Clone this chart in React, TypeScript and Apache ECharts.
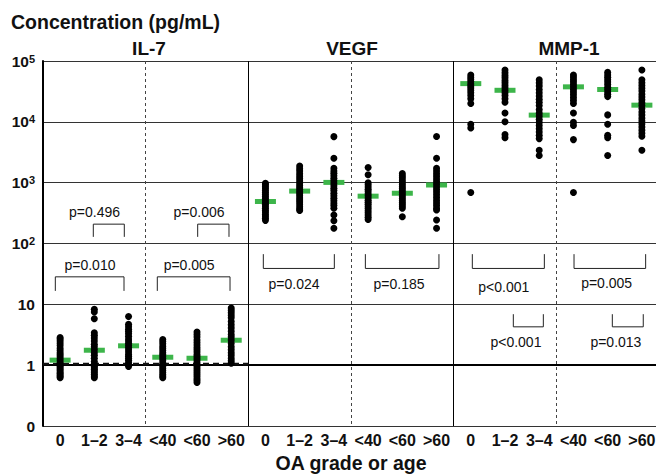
import React, { useEffect, useRef } from 'react';
import * as echarts from 'echarts';

// ---------- data ----------
const groupNames = ['IL-7', 'VEGF', 'MMP-1'];
const subgroupLabels = ['0', '1–2', '3–4', '<40', '<60', '>60'];
const yTickLabels = ['0', '1', '10', '10|2', '10|3', '10|4', '10|5'];

// concentrations, pg/mL, one list per subgroup (0, 1–2, 3–4, <40, <60, >60)
const il7Values = [
  [0.62, 0.65, 0.68, 0.72, 0.75, 0.8, 0.85, 0.9, 0.95, 1.0, 1.05, 1.1, 1.2, 1.3, 1.4, 1.5, 1.6, 1.75, 1.9, 2.1, 2.3, 2.5, 2.7, 2.85],
  [8.3, 7.5, 5.8, 3.4, 3.1, 2.8, 2.5, 2.2, 2.0, 1.8, 1.6, 1.45, 1.3, 1.15, 1.05, 1.0, 0.95, 0.9, 0.85, 0.8, 0.75, 0.7, 0.66, 0.62],
  [6.3, 4.7, 4.3, 3.9, 3.6, 3.3, 3.0, 2.7, 2.5, 2.3, 2.1, 1.95, 1.8, 1.65, 1.5, 1.4, 1.3, 1.2, 1.1, 1.02, 0.95],
  [2.65, 2.45, 2.25, 2.05, 1.9, 1.75, 1.6, 1.5, 1.4, 1.3, 1.2, 1.1, 1.02, 0.95, 0.88, 0.82, 0.76, 0.7, 0.66, 0.62],
  [3.5, 3.2, 2.9, 2.6, 2.35, 2.15, 1.95, 1.8, 1.65, 1.5, 1.4, 1.3, 1.2, 1.1, 1.02, 0.95, 0.88, 0.82, 0.76, 0.7, 0.65, 0.6, 0.56, 0.52],
  [8.7, 8.0, 7.3, 6.6, 6.0, 5.2, 4.6, 4.1, 3.6, 3.2, 2.9, 2.6, 2.3, 2.0, 1.8, 1.6, 1.45, 1.3, 1.18, 1.08],
];
const il7Medians = [1.21, 1.76, 2.08, 1.35, 1.3, 2.57];

const vegfValues = [
  [980, 920, 860, 800, 740, 690, 640, 590, 550, 510, 470, 440, 410, 380, 350, 325, 300, 280, 260, 240],
  [1880, 1700, 1550, 1400, 1280, 1170, 1070, 980, 900, 830, 770, 710, 660, 610, 560, 520, 480, 440, 400, 370, 350],
  [5710, 2520, 1720, 1550, 1430, 1300, 1180, 1080, 980, 890, 810, 740, 670, 610, 555, 505, 460, 420, 380, 295, 237, 178],
  [1780, 1350, 1000, 920, 850, 780, 720, 660, 610, 560, 515, 475, 440, 405, 375, 345, 320, 295, 270, 248],
  [1410, 1300, 1200, 1100, 1010, 930, 860, 800, 740, 690, 640, 590, 550, 510, 470, 440, 410, 380, 275],
  [5750, 2520, 1720, 1550, 1400, 1270, 1150, 1040, 940, 850, 770, 700, 630, 570, 515, 465, 420, 380, 355, 244, 178],
];
const vegfMedians = [490, 727, 1010, 600, 670, 915];

const mmp1Values = [
  [59000, 54000, 50000, 46000, 42000, 39000, 36000, 33000, 30000, 27000, 24000, 20000, 9100, 7900, 690],
  [71000, 64000, 58000, 53000, 48000, 44000, 40000, 36500, 33000, 30000, 27000, 24000, 21000, 14000, 10000, 6200, 5500],
  [49000, 44000, 39000, 34000, 30000, 26500, 23500, 21000, 18500, 16000, 14000, 12500, 11000, 9800, 8700, 7700, 6800, 6000, 5300, 3400, 2800],
  [59000, 54000, 49000, 45000, 41000, 37500, 34000, 31000, 28000, 25000, 22500, 20000, 14000, 9800, 8700, 5100, 690],
  [65000, 59000, 54000, 49000, 45000, 41000, 37000, 34000, 31000, 28500, 26000, 13000, 9100, 6000, 5500, 2800],
  [71000, 49000, 44000, 39500, 35500, 32000, 28500, 25500, 23000, 20500, 18500, 16500, 14500, 13000, 11500, 10300, 9200, 8200, 7300, 6500, 5800, 3400],
];
const mmp1Medians = [42500, 33000, 12900, 37600, 34000, 18800];

const detectionLimit = 1.05; // IL-7, pg/mL

// p-value brackets: x in category units, levels in log10(pg/mL)
const pBrackets = [
  { from: 0.97, to: 1.876, barLog: 2.318, legLog: 2.109, text: 'p=0.496', tx: 1.005, tyLog: 2.515 },
  { from: 4.02, to: 4.935, barLog: 2.318, legLog: 2.109, text: 'p=0.006', tx: 4.06, tyLog: 2.515 },
  { from: -0.14, to: 1.867, barLog: 1.452, legLog: 1.221, text: 'p=0.010', tx: 0.873, tyLog: 1.644 },
  { from: 2.84, to: 4.965, barLog: 1.452, legLog: 1.221, text: 'p=0.005', tx: 3.77, tyLog: 1.644 },
  { from: 5.938, to: 8.013, barLog: 1.59, legLog: 1.825, text: 'p=0.024', tx: 6.835, tyLog: 1.332 },
  { from: 8.92, to: 11.07, barLog: 1.59, legLog: 1.825, text: 'p=0.185', tx: 9.903, tyLog: 1.332 },
  { from: 12.045, to: 14.15, barLog: 1.59, legLog: 1.825, text: 'p<0.001', tx: 12.966, tyLog: 1.287 },
  { from: 15.017, to: 17.11, barLog: 1.59, legLog: 1.825, text: 'p=0.005', tx: 15.97, tyLog: 1.343 },
  { from: 13.243, to: 14.12, barLog: 0.63, legLog: 0.838, text: 'p<0.001', tx: 13.32, tyLog: 0.386 },
  { from: 16.136, to: 17.04, barLog: 0.63, legLog: 0.838, text: 'p=0.013', tx: 16.24, tyLog: 0.386 },
];

// ---------- derived ----------
const FONT = '"Liberation Sans", Arial, sans-serif';
const GREEN = '#3db54a';
const allValues = [il7Values, vegfValues, mmp1Values];
const allMedians = [il7Medians, vegfMedians, mmp1Medians];
const categories: string[] = [];
groupNames.forEach(() => subgroupLabels.forEach((l) => categories.push(l)));

const dotData: number[][] = [];
allValues.forEach((grp, g) =>
  grp.forEach((vals, c) => vals.forEach((v) => dotData.push([g * 6 + c, Math.log10(v)])))
);
const medianData: number[][] = [];
allMedians.forEach((grp, g) => grp.forEach((v, c) => medianData.push([g * 6 + c, Math.log10(v)])));

export default function App() {
  const ref = useRef<HTMLDivElement>(null);
  useEffect(() => {
    if (!ref.current) return;
    const chart = echarts.init(ref.current, undefined, { renderer: 'svg' });
    const titleFont = `bold 19px ${FONT}`;
    const option: any = {
      animation: false,
      backgroundColor: '#fff',
      grid: { left: 43, top: 61, width: 616, height: 365, containLabel: false, outerBoundsMode: 'none' },
      graphic: [
        { type: 'text', x: 11, y: 22, style: { text: 'Concentration (pg/mL)', font: `bold 19.5px ${FONT}`, fill: '#111', verticalAlign: 'middle' } },
        { type: 'text', x: 149, y: 48, style: { text: groupNames[0], font: titleFont, fill: '#111', align: 'center', verticalAlign: 'middle' } },
        { type: 'text', x: 352, y: 48, style: { text: groupNames[1], font: titleFont, fill: '#111', align: 'center', verticalAlign: 'middle' } },
        { type: 'text', x: 569, y: 48, style: { text: groupNames[2], font: titleFont, fill: '#111', align: 'center', verticalAlign: 'middle' } },
      ],
      xAxis: [
        {
          type: 'category',
          data: categories,
          boundaryGap: true,
          position: 'bottom',
          axisLine: { show: true, lineStyle: { color: '#000', width: 2 } },
          axisTick: { show: false },
          axisLabel: { interval: 0, margin: 6, fontSize: 16, fontWeight: 'bold', color: '#111', fontFamily: FONT },
          splitLine: { show: true, interval: (i: number) => i === 6 || i === 12, lineStyle: { color: '#000', width: 1 } },
          name: 'OA grade or age',
          nameLocation: 'middle',
          nameGap: 27,
          nameTextStyle: { fontSize: 19.5, fontWeight: 'bold', color: '#111', fontFamily: FONT },
        },
        {
          type: 'category',
          data: categories,
          boundaryGap: true,
          position: 'bottom',
          axisLine: { show: false },
          axisTick: { show: false },
          axisLabel: { show: false },
          splitLine: { show: true, interval: (i: number) => i % 6 === 3, lineStyle: { color: '#444', width: 1, type: [3, 3] } },
        },
      ],
      yAxis: {
        type: 'value',
        min: -1,
        max: 5,
        interval: 1,
        axisLine: { show: true, lineStyle: { color: '#000', width: 2 } },
        axisTick: { show: false },
        axisLabel: {
          margin: 8,
          color: '#111',
          fontFamily: FONT,
          formatter: (v: number) => {
            const t = yTickLabels[Math.round(v) + 1] || '';
            const parts = t.split('|');
            return parts.length > 1 ? `{b|${parts[0]}}{s|${parts[1]}}` : `{b|${parts[0]}}`;
          },
          rich: {
            b: { fontSize: 15.5, fontWeight: 'bold', color: '#111', fontFamily: FONT, lineHeight: 16 },
            s: { fontSize: 11, fontWeight: 'bold', color: '#111', fontFamily: FONT, verticalAlign: 'top', lineHeight: 16 },
          },
        },
        splitLine: { show: true, lineStyle: { color: '#333', width: 1 } },
      },
      series: [
        {
          type: 'custom',
          name: 'detection limit',
          xAxisIndex: 0,
          z: 1,
          data: [[0, Math.log10(detectionLimit)]],
          renderItem: (params: any, api: any) => {
            const band = api.size([1, 0])[0];
            const c0 = api.coord([0, api.value(1)]);
            return {
              type: 'line',
              shape: { x1: c0[0] - band / 2, y1: c0[1], x2: c0[0] + band * 5.5, y2: c0[1] },
              style: { stroke: '#111', lineWidth: 2.5, lineDash: [6, 4] },
            };
          },
        },
        {
          type: 'scatter',
          name: 'median',
          z: 2,
          symbol: 'rect',
          symbolSize: [21, 5],
          itemStyle: { color: GREEN, opacity: 1 },
          data: medianData,
        },
        {
          type: 'scatter',
          name: 'samples',
          z: 3,
          symbol: 'circle',
          symbolSize: 7,
          itemStyle: { color: '#000', opacity: 1 },
          data: dotData,
        },
        {
          type: 'custom',
          name: 'p-values',
          z: 4,
          data: pBrackets.map((b, k) => [b.from, b.barLog, k]),
          renderItem: (params: any, api: any) => {
            const b = pBrackets[api.value(2)];
            const band = api.size([1, 0])[0];
            const x0 = api.coord([0, 0])[0];
            const px = (f: number) => x0 + f * band;
            const py = (v: number) => api.coord([0, v])[1];
            const x1 = px(b.from), x2 = px(b.to);
            const yb = py(b.barLog), yl = py(b.legLog);
            return {
              type: 'group',
              children: [
                {
                  type: 'polyline',
                  shape: { points: [[x1, yl], [x1, yb], [x2, yb], [x2, yl]] },
                  style: { stroke: '#222', lineWidth: 1, fill: null },
                },
                {
                  type: 'text',
                  x: px(b.tx),
                  y: py(b.tyLog),
                  style: { text: b.text, font: `14px ${FONT}`, fill: '#111', align: 'center', verticalAlign: 'middle' },
                },
              ],
            };
          },
        },
      ],
    };
    chart.setOption(option);
    return () => chart.dispose();
  }, []);
  return (
    <div style={{ position: 'absolute', left: 0, top: 0, width: 656, height: 476, overflow: 'hidden', background: '#fff' }}>
      <div ref={ref} style={{ width: 660, height: 476 }} />
    </div>
  );
}
